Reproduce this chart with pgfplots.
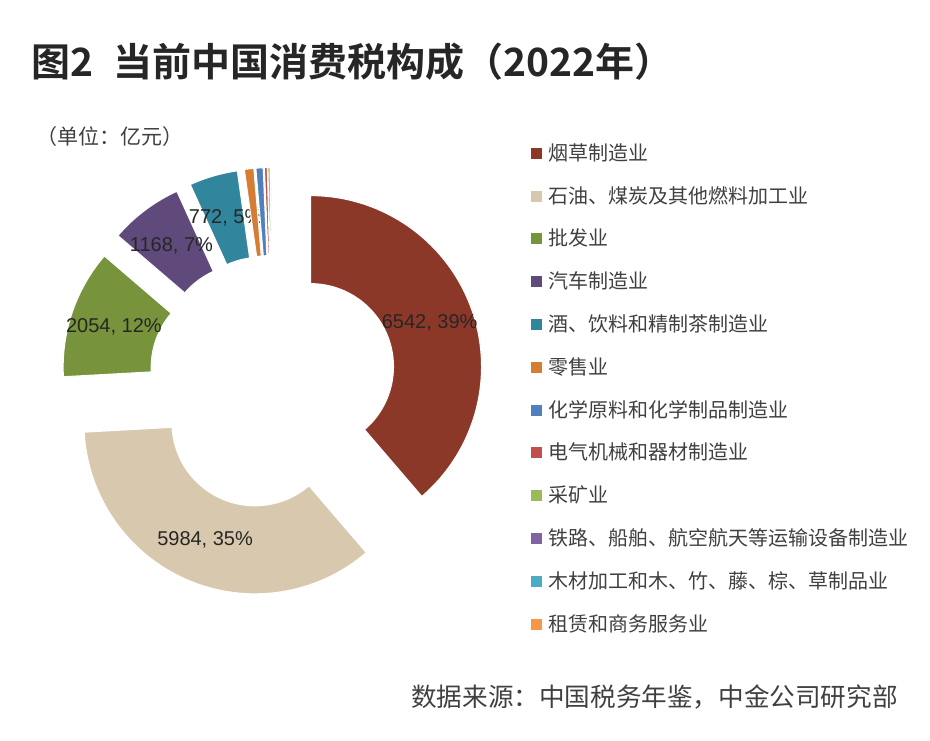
\documentclass[border=0pt]{standalone}
\usepackage{fontspec}
\setmainfont{Liberation Sans}
\newfontfamily\cjk[BoldFont={Noto Sans CJK SC Bold}]{Noto Sans CJK SC}
\usepackage{pgfplots}
\pgfplotsset{compat=1.18}

\definecolor{cTob}{RGB}{140,56,40}
\definecolor{cOil}{RGB}{216,201,174}
\definecolor{cWho}{RGB}{119,147,60}
\definecolor{cCar}{RGB}{96,74,123}
\definecolor{cWin}{RGB}{49,133,156}
\definecolor{cRet}{RGB}{214,125,52}
\definecolor{cChe}{RGB}{79,129,189}
\definecolor{cEle}{RGB}{192,80,77}
\definecolor{cMin}{RGB}{155,187,89}
\definecolor{cRai}{RGB}{128,100,162}
\definecolor{cWoo}{RGB}{75,172,198}
\definecolor{cRen}{RGB}{247,150,70}
\definecolor{cTitle}{RGB}{38,38,38}
\definecolor{cText}{RGB}{64,64,64}

% frame in pixels of a 930x740 picture, y up
\def\cx{273}\def\cy{359.5}\def\Ro{171}\def\Ri{83}
\def\total{16898}
\def\cum{0}

% one exploded donut slice: value, colour, explode distance, label
\newcommand\slice[4]{%
  \edef\aS{\fpeval{round(90-360*\cum/\total,4)}}%
  \xdef\cum{\fpeval{\cum+#1}}%
  \edef\aE{\fpeval{round(90-360*\cum/\total,4)}}%
  \edef\aM{\fpeval{(\aS+\aE)/2}}%
  \edef\ox{\fpeval{round(\cx+#3*cosd(\aM),3)}}%
  \edef\oy{\fpeval{round(\cy+#3*sind(\aM),3)}}%
  \edef\lx{\fpeval{round(\ox+(\Ro+\Ri)/2*cosd(\aM),3)}}%
  \edef\ly{\fpeval{round(\oy+(\Ro+\Ri)/2*sind(\aM),3)}}%
  \edef\ang{(x<1.005 ? (\aS)+((\aE)-(\aS))*min(x,1) : (\aE)+((\aS)-(\aE))*max(x-1.01,0)/0.99)}%
  \edef\rad{(x<1.005 ? \Ro : \Ri)}%
  \edef\doslice{\noexpand\addplot[fill=#2,draw=white,line width=0.5pt,
      domain=0:2,samples=201]
    ({\ox+\rad*cos(\ang)},{\oy+\rad*sin(\ang)}) -- cycle;}%
  \doslice
  \edef\donode{\noexpand\node[text=black!85,font=\noexpand\fontsize{10}{12}\noexpand\selectfont]
    at (axis cs:\lx,\ly) {\unexpanded{#4}};}%
  \donode
}

\begin{document}
\begin{tikzpicture}
\begin{axis}[
    width=465pt, height=370pt, scale only axis,
    xmin=0, xmax=930, ymin=0, ymax=740,
    axis lines=none, clip=false,
    legend cell align=left,
    legend image code/.code={\draw[#1] (0pt,-3pt) rectangle (6pt,3pt);},
    legend style={at={(0.5699,0.806)}, anchor=north west,
        draw=none, fill=none, inner sep=0pt, row sep=12pt,
        font=\cjk\fontsize{10}{12}\selectfont, text=cText,
        nodes={inner sep=0pt, text height=8.2pt, text depth=1.2pt},
        /tikz/every odd column/.append style={column sep=2.5pt}},
]
\addplot[draw=none, forget plot] coordinates {(0,0) (930,740)};
\slice{6542}{cTob}{40}{6542, 39\%}
\slice{5984}{cOil}{46}{5984, 35\%}
\slice{2054}{cWho}{41}{2054, 12\%}
\slice{1168}{cCar}{42}{1168, 7\%}
\slice{772}{cWin}{42}{772, 5\%}
\slice{150}{cRet}{42}{}
\slice{115}{cChe}{42}{}
\slice{45}{cEle}{42}{}
\slice{35}{cMin}{42}{}
\slice{15}{cRai}{42}{}
\slice{10}{cWoo}{42}{}
\slice{8}{cRen}{42}{}
\legend{烟草制造业,石油、煤炭及其他燃料加工业,批发业,汽车制造业,酒、饮料和精制茶制造业,零售业,化学原料和化学制品制造业,电气机械和器材制造业,采矿业,铁路、船舶、航空航天等运输设备制造业,木材加工和木、竹、藤、棕、草制品业,租赁和商务服务业}

\node[anchor=west, inner sep=0pt, text=cTitle] at (axis cs:31,678)
    {\cjk\bfseries\fontsize{19.5}{22}\selectfont 图2\hspace{10pt}当前中国消费税构成（2022年）};
\node[anchor=west, inner sep=0pt, text=cText] at (axis cs:36,603)
    {\cjk\fontsize{10.5}{12}\selectfont （单位：亿元）};
\node[anchor=east, inner sep=0pt, text=cText] at (axis cs:898,43)
    {\cjk\fontsize{12.8}{15}\selectfont 数据来源：中国税务年鉴，中金公司研究部};
\end{axis}
\end{tikzpicture}
\end{document}
